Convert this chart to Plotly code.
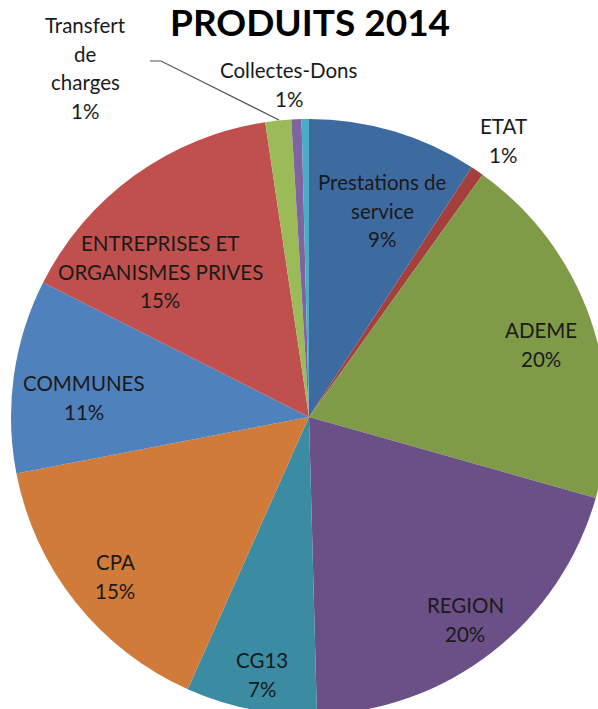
import plotly.graph_objects as go

# produits 2014, en %
labels = ["Prestations de service", "ETAT", "ADEME", "REGION", "CG13", "CPA",
          "COMMUNES", "ENTREPRISES ET ORGANISMES PRIVES", "Transfert de charges",
          "Collectes-Dons", "Autres"]
values = [9.2, 0.7, 19.5, 20.2, 7.1, 15.3, 10.5, 15.2, 1.4, 0.55, 0.4]
pct_text = ["9%", "1%", "20%", "20%", "7%", "15%", "11%", "15%", "1%", "1%", ""]
label_lines = [
    ["Prestations de", "service"],
    ["ETAT"],
    ["ADEME"],
    ["REGION"],
    ["CG13"],
    ["CPA"],
    ["COMMUNES"],
    ["ENTREPRISES ET", "ORGANISMES PRIVES"],
    ["Transfert", "de", "charges"],
    ["Collectes-Dons"],
    [],
]
colors = ["#3E6B9F", "#A3403D", "#7F9B48", "#6A5087", "#3B8BA3", "#D07B3A",
          "#4F81BD", "#C0504D", "#9BBB59", "#8064A2", "#4BACC6"]

# position (px) du centre du premier texte de chaque etiquette
label_pos = [(382, 182), (503, 126), (541, 330), (465, 605), (262, 660), (115, 562),
             (84, 383), (160, 243), (85, 25), (289, 70), None]

W, H = 620, 730
LINE = 28.7

fig = go.Figure(go.Pie(
    labels=labels, values=values, sort=False, direction="clockwise", rotation=0,
    marker=dict(colors=colors, line=dict(width=0)),
    textinfo="none", hoverinfo="label+percent", showlegend=False,
    domain=dict(x=[11 / W, 607 / W], y=[(H - 715) / H, (H - 119) / H]),
))

for lines, pct, pos in zip(label_lines, pct_text, label_pos):
    if pos is None:
        continue
    for i, t in enumerate(lines + [pct]):
        fig.add_annotation(x=pos[0] / W, y=1 - (pos[1] + i * LINE) / H,
                           xref="paper", yref="paper", text=t, showarrow=False,
                           xanchor="center", yanchor="middle",
                           font=dict(family="Lato", size=20.5, color="#1a1a1a"))

# trait de rappel "Transfert de charges"
fig.add_shape(type="path", xref="paper", yref="paper",
              path=f"M {150 / W},{1 - 61 / H} L {161 / W},{1 - 61 / H} L {279 / W},{1 - 120 / H}",
              line=dict(color="#555555", width=1.2))

fig.add_annotation(x=310 / W, y=1 - 22 / H, xref="paper", yref="paper",
                   text="<b>PRODUITS 2014</b>", showarrow=False,
                   xanchor="center", yanchor="middle",
                   font=dict(family="Lato", size=37, color="#000000"))

fig.update_layout(width=W, height=H, autosize=False,
                  margin=dict(l=0, r=0, t=0, b=0),
                  paper_bgcolor="white", plot_bgcolor="white")

fig.write_html("out.html", config={"displayModeBar": False},
               post_script="document.body.style.margin='0';document.body.style.overflow='hidden';")
